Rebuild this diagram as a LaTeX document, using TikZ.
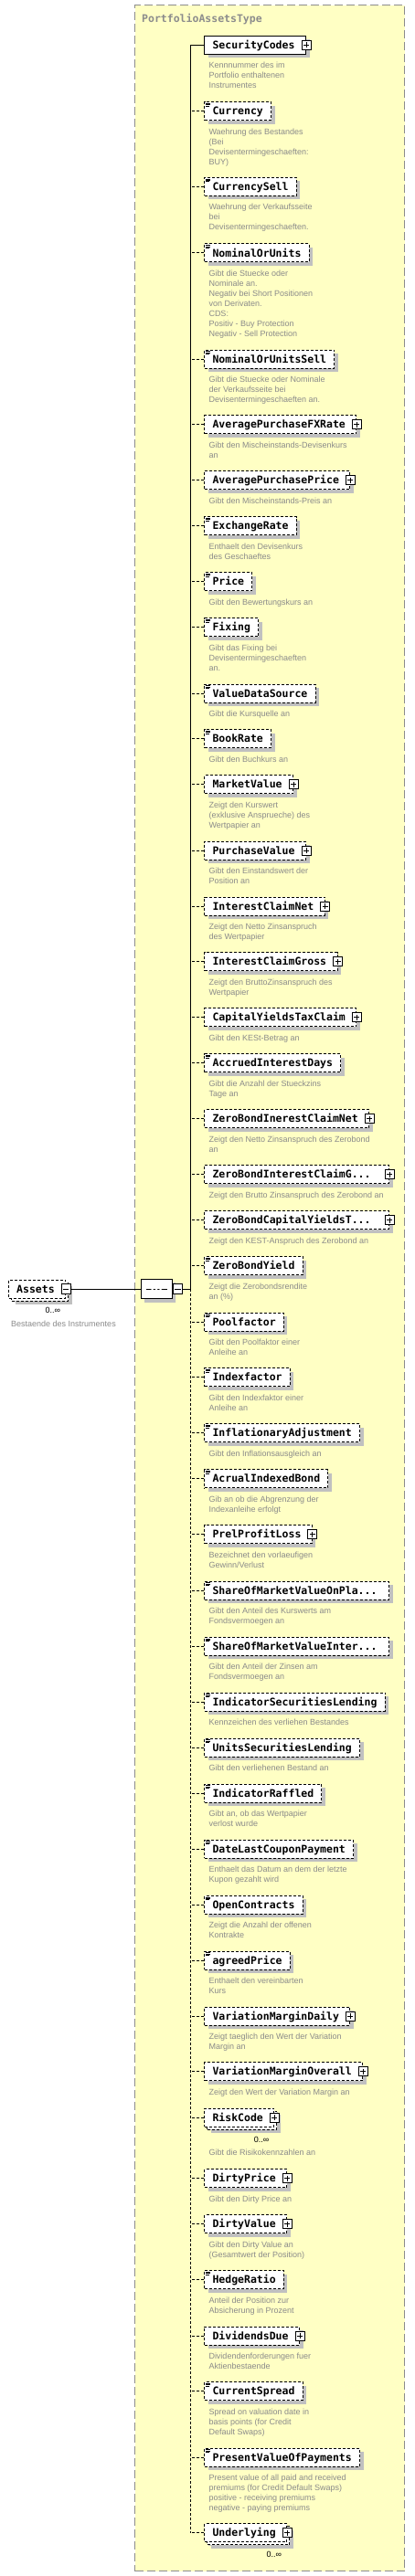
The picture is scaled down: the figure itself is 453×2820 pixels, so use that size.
\documentclass[tikz,border=0pt]{standalone}
\usepackage{fontspec}
\setmainfont{Liberation Sans}
\newfontfamily\monofont{DejaVu Sans Mono}
\usetikzlibrary{positioning,shadows,shapes.misc}
\definecolor{typefill}{HTML}{FFFFC4}
\definecolor{typeline}{HTML}{8C8C8C}
\definecolor{docgray}{HTML}{8A8A8A}
\definecolor{shadowgray}{HTML}{C0C0C0}
\tikzset{
	typebox/.style={rectangle, draw=typeline, fill=typefill, line width=1pt, dash pattern=on 9pt off 4pt, inner sep=0pt},
	typetitle/.style={font=\monofont\bfseries\fontsize{11.5}{13}\selectfont, text=typeline, inner sep=0pt},
	elembox/.style={rectangle, draw=black, fill=white, line width=1pt, anchor=west,
		minimum height=20pt, inner ysep=0pt, inner xsep=8.7pt, text height=10pt, text depth=1.6pt,
		font=\monofont\bfseries\fontsize{11.5}{13}\selectfont,
		drop shadow={shadow xshift=4pt, shadow yshift=-4pt, fill=shadowgray, opacity=1}},
	reqbox/.style={elembox},
	optbox/.style={elembox, dash pattern=on 3pt off 2pt},
	cutbox/.style={text width=184.3pt, align=left},
	plusicon/.style={rectangle, draw=black, fill=white, solid, line width=0.9pt, minimum size=10pt, inner sep=0pt, anchor=center,
		path picture={\draw[line width=0.9pt] ([xshift=2pt]path picture bounding box.west) -- ([xshift=-2pt]path picture bounding box.east)
			([yshift=-2pt]path picture bounding box.north) -- ([yshift=2pt]path picture bounding box.south);}},
	minusicon/.style={rectangle, draw=black, fill=white, solid, line width=0.9pt, minimum size=10.5pt, inner sep=0pt,
		path picture={\draw[line width=0.9pt] ([xshift=2pt]path picture bounding box.west) -- ([xshift=-2pt]path picture bounding box.east);}},
	expbox/.style={execute at end node={\hspace*{3.3pt}}, label={[plusicon]0:{}}},
	simplebox/.style={path picture={\draw[line width=0.6pt, solid]
		([xshift=1.5pt, yshift=-1.6pt]path picture bounding box.north west) -- ++(5pt,0pt)
		([xshift=1.5pt, yshift=-3pt]path picture bounding box.north west) -- ++(5pt,0pt)
		([xshift=1.5pt, yshift=-4.4pt]path picture bounding box.north west) -- ++(4pt,0pt);}},
	multibox/.style={drop shadow={shadow xshift=7pt, shadow yshift=-7pt, fill=shadowgray, opacity=1},
		general shadow={shadow xshift=3pt, shadow yshift=-3pt, fill=white, draw=black, line width=1pt, dash pattern=on 3pt off 2pt}},
	multtext/.style={font=\fontsize{9}{11}\selectfont, text=black, inner sep=0pt},
	elemdoc/.style={font=\fontsize{9}{11}\selectfont, text=docgray, align=left, inner sep=0pt},
	seqbox/.style={chamfered rectangle, chamfered rectangle xsep=7pt, draw=black, fill=white, line width=1pt,
		minimum width=34pt, minimum height=21.7pt, inner sep=0pt,
		drop shadow={shadow xshift=4pt, shadow yshift=-4pt, fill=shadowgray, opacity=1},
		path picture={\draw[line width=1pt] ([xshift=6pt]path picture bounding box.west) -- ([xshift=-5pt]path picture bounding box.east);
			\fill ([xshift=-4.5pt]path picture bounding box.center) circle (1.5pt)
				(path picture bounding box.center) circle (1.5pt)
				([xshift=4.5pt]path picture bounding box.center) circle (1.5pt);}},
	conline/.style={line width=1pt},
	optline/.style={line width=1pt, dash pattern=on 3pt off 2pt}
}
\begin{document}
\begin{tikzpicture}[x=1pt, y=-1pt]
	\useasboundingbox (0,0) rectangle (453,2820);
	\node[typebox, anchor=north west, minimum width=295pt, minimum height=2809pt] (PortfolioAssetsType) at (147.3,5.3) {};
	\node[typetitle, anchor=base west] (title) at (155,24.5) {PortfolioAssetsType};

	\node[optbox, multibox, execute at end node={\hspace*{3.3pt}}, label={[minusicon, anchor=center, name=Assets-m]0:{}}] (Assets) at (9,1411) {Assets};
	\node[multtext, below left=9.8pt and 6pt of Assets.south east] (Assets-occ) {0..∞};
	\node[elemdoc, below right=24.4pt and 3pt of Assets.south west] (Assets-doc) {Bestaende des Instrumentes};

	\node[seqbox, label={[minusicon, anchor=west, name=seq-m]0:{}}] (seq) at (171.2,1411) {};
	\coordinate (spine) at (208.3,1411);

	\node[reqbox, expbox] (SecurityCodes) at (223.3,49.3) {SecurityCodes};
	\node[elemdoc, below right=8.4pt and 5pt of SecurityCodes.south west] (SecurityCodes-doc) {Kennnummer des im\\Portfolio enthaltenen\\Instrumentes};
	\node[optbox, simplebox] (Currency) at (223.3,121.7) {Currency};
	\node[elemdoc, below right=8.4pt and 5pt of Currency.south west] (Currency-doc) {Waehrung des Bestandes\\(Bei\\Devisentermingeschaeften:\\BUY)};
	\node[optbox, simplebox] (CurrencySell) at (223.3,204.3) {CurrencySell};
	\node[elemdoc, below right=8.4pt and 5pt of CurrencySell.south west] (CurrencySell-doc) {Waehrung der Verkaufsseite\\bei\\Devisentermingeschaeften.};
	\node[optbox, simplebox] (NominalOrUnits) at (223.3,277) {NominalOrUnits};
	\node[elemdoc, below right=8.4pt and 5pt of NominalOrUnits.south west] (NominalOrUnits-doc) {Gibt die Stuecke oder\\Nominale an.\\Negativ bei Short Positionen\\von Derivaten.\\CDS:\\Positiv - Buy Protection\\Negativ - Sell Protection};
	\node[optbox, simplebox] (NominalOrUnitsSell) at (223.3,393) {NominalOrUnitsSell};
	\node[elemdoc, below right=8.4pt and 5pt of NominalOrUnitsSell.south west] (NominalOrUnitsSell-doc) {Gibt die Stuecke oder Nominale\\der Verkaufsseite bei\\Devisentermingeschaeften an.};
	\node[optbox, expbox] (AveragePurchaseFXRate) at (223.3,464.7) {AveragePurchaseFXRate};
	\node[elemdoc, below right=8.4pt and 5pt of AveragePurchaseFXRate.south west] (AveragePurchaseFXRate-doc) {Gibt den Mischeinstands-Devisenkurs\\an};
	\node[optbox, expbox] (AveragePurchasePrice) at (223.3,525.7) {AveragePurchasePrice};
	\node[elemdoc, below right=8.4pt and 5pt of AveragePurchasePrice.south west] (AveragePurchasePrice-doc) {Gibt den Mischeinstands-Preis an};
	\node[optbox, simplebox] (ExchangeRate) at (223.3,575.7) {ExchangeRate};
	\node[elemdoc, below right=8.4pt and 5pt of ExchangeRate.south west] (ExchangeRate-doc) {Enthaelt den Devisenkurs\\des Geschaeftes};
	\node[optbox, simplebox] (Price) at (223.3,636.7) {Price};
	\node[elemdoc, below right=8.4pt and 5pt of Price.south west] (Price-doc) {Gibt den Bewertungskurs an};
	\node[optbox, simplebox] (Fixing) at (223.3,686.7) {Fixing};
	\node[elemdoc, below right=8.4pt and 5pt of Fixing.south west] (Fixing-doc) {Gibt das Fixing bei\\Devisentermingeschaeften\\an.};
	\node[optbox, simplebox] (ValueDataSource) at (223.3,759) {ValueDataSource};
	\node[elemdoc, below right=8.4pt and 5pt of ValueDataSource.south west] (ValueDataSource-doc) {Gibt die Kursquelle an};
	\node[optbox, simplebox] (BookRate) at (223.3,808.7) {BookRate};
	\node[elemdoc, below right=8.4pt and 5pt of BookRate.south west] (BookRate-doc) {Gibt den Buchkurs an};
	\node[optbox, expbox] (MarketValue) at (223.3,858.7) {MarketValue};
	\node[elemdoc, below right=8.4pt and 5pt of MarketValue.south west] (MarketValue-doc) {Zeigt den Kurswert\\(exklusive Ansprueche) des\\Wertpapier an};
	\node[optbox, expbox] (PurchaseValue) at (223.3,931) {PurchaseValue};
	\node[elemdoc, below right=8.4pt and 5pt of PurchaseValue.south west] (PurchaseValue-doc) {Gibt den Einstandswert der\\Position an};
	\node[optbox, expbox] (InterestClaimNet) at (223.3,992) {InterestClaimNet};
	\node[elemdoc, below right=8.4pt and 5pt of InterestClaimNet.south west] (InterestClaimNet-doc) {Zeigt den Netto Zinsanspruch\\des Wertpapier};
	\node[optbox, expbox] (InterestClaimGross) at (223.3,1052.7) {InterestClaimGross};
	\node[elemdoc, below right=8.4pt and 5pt of InterestClaimGross.south west] (InterestClaimGross-doc) {Zeigt den BruttoZinsanspruch des\\Wertpapier};
	\node[optbox, expbox] (CapitalYieldsTaxClaim) at (223.3,1113.7) {CapitalYieldsTaxClaim};
	\node[elemdoc, below right=8.4pt and 5pt of CapitalYieldsTaxClaim.south west] (CapitalYieldsTaxClaim-doc) {Gibt den KESt-Betrag an};
	\node[optbox, simplebox] (AccruedInterestDays) at (223.3,1163.7) {AccruedInterestDays};
	\node[elemdoc, below right=8.4pt and 5pt of AccruedInterestDays.south west] (AccruedInterestDays-doc) {Gibt die Anzahl der Stueckzins\\Tage an};
	\node[optbox, expbox] (ZeroBondInerestClaimNet) at (223.3,1224.7) {ZeroBondInerestClaimNet};
	\node[elemdoc, below right=8.4pt and 5pt of ZeroBondInerestClaimNet.south west] (ZeroBondInerestClaimNet-doc) {Zeigt den Netto Zinsanspruch des Zerobond\\an};
	\node[optbox, cutbox, expbox] (ZeroBondInterestClaimG) at (223.3,1285.7) {ZeroBondInterestClaimG...};
	\node[elemdoc, below right=8.4pt and 5pt of ZeroBondInterestClaimG.south west] (ZeroBondInterestClaimG-doc) {Zeigt den Brutto Zinsanspruch des Zerobond an};
	\node[optbox, cutbox, expbox] (ZeroBondCapitalYieldsT) at (223.3,1335.7) {ZeroBondCapitalYieldsT...};
	\node[elemdoc, below right=8.4pt and 5pt of ZeroBondCapitalYieldsT.south west] (ZeroBondCapitalYieldsT-doc) {Zeigt den KEST-Anspruch des Zerobond an};
	\node[optbox, simplebox] (ZeroBondYield) at (223.3,1385.7) {ZeroBondYield};
	\node[elemdoc, below right=8.4pt and 5pt of ZeroBondYield.south west] (ZeroBondYield-doc) {Zeigt die Zerobondsrendite\\an (\%)};
	\node[optbox, simplebox] (Poolfactor) at (223.3,1447) {Poolfactor};
	\node[elemdoc, below right=8.4pt and 5pt of Poolfactor.south west] (Poolfactor-doc) {Gibt den Poolfaktor einer\\Anleihe an};
	\node[optbox, simplebox] (Indexfactor) at (223.3,1507.7) {Indexfactor};
	\node[elemdoc, below right=8.4pt and 5pt of Indexfactor.south west] (Indexfactor-doc) {Gibt den Indexfaktor einer\\Anleihe an};
	\node[optbox, simplebox] (InflationaryAdjustment) at (223.3,1568.7) {InflationaryAdjustment};
	\node[elemdoc, below right=8.4pt and 5pt of InflationaryAdjustment.south west] (InflationaryAdjustment-doc) {Gibt den Inflationsausgleich an};
	\node[optbox, simplebox] (AcrualIndexedBond) at (223.3,1618.7) {AcrualIndexedBond};
	\node[elemdoc, below right=8.4pt and 5pt of AcrualIndexedBond.south west] (AcrualIndexedBond-doc) {Gib an ob die Abgrenzung der\\Indexanleihe erfolgt};
	\node[optbox, expbox] (PrelProfitLoss) at (223.3,1679.7) {PrelProfitLoss};
	\node[elemdoc, below right=8.4pt and 5pt of PrelProfitLoss.south west] (PrelProfitLoss-doc) {Bezeichnet den vorlaeufigen\\Gewinn/Verlust};
	\node[optbox, cutbox, simplebox] (ShareOfMarketValueOnPla) at (223.3,1741) {ShareOfMarketValueOnPla...};
	\node[elemdoc, below right=8.4pt and 5pt of ShareOfMarketValueOnPla.south west] (ShareOfMarketValueOnPla-doc) {Gibt den Anteil des Kurswerts am\\Fondsvermoegen an};
	\node[optbox, cutbox, simplebox] (ShareOfMarketValueInter) at (223.3,1802.3) {ShareOfMarketValueInter...};
	\node[elemdoc, below right=8.4pt and 5pt of ShareOfMarketValueInter.south west] (ShareOfMarketValueInter-doc) {Gibt den Anteil der Zinsen am\\Fondsvermoegen an};
	\node[optbox, simplebox] (IndicatorSecuritiesLending) at (223.3,1863) {IndicatorSecuritiesLending};
	\node[elemdoc, below right=8.4pt and 5pt of IndicatorSecuritiesLending.south west] (IndicatorSecuritiesLending-doc) {Kennzeichen des verliehen Bestandes};
	\node[optbox, simplebox] (UnitsSecuritiesLending) at (223.3,1913) {UnitsSecuritiesLending};
	\node[elemdoc, below right=8.4pt and 5pt of UnitsSecuritiesLending.south west] (UnitsSecuritiesLending-doc) {Gibt den verliehenen Bestand an};
	\node[optbox, simplebox] (IndicatorRaffled) at (223.3,1963) {IndicatorRaffled};
	\node[elemdoc, below right=8.4pt and 5pt of IndicatorRaffled.south west] (IndicatorRaffled-doc) {Gibt an, ob das Wertpapier\\verlost wurde};
	\node[optbox, simplebox] (DateLastCouponPayment) at (223.3,2024) {DateLastCouponPayment};
	\node[elemdoc, below right=8.4pt and 5pt of DateLastCouponPayment.south west] (DateLastCouponPayment-doc) {Enthaelt das Datum an dem der letzte\\Kupon gezahlt wird};
	\node[optbox, simplebox] (OpenContracts) at (223.3,2085.3) {OpenContracts};
	\node[elemdoc, below right=8.4pt and 5pt of OpenContracts.south west] (OpenContracts-doc) {Zeigt die Anzahl der offenen\\Kontrakte};
	\node[optbox, simplebox] (agreedPrice) at (223.3,2146) {agreedPrice};
	\node[elemdoc, below right=8.4pt and 5pt of agreedPrice.south west] (agreedPrice-doc) {Enthaelt den vereinbarten\\Kurs};
	\node[optbox, expbox] (VariationMarginDaily) at (223.3,2207) {VariationMarginDaily};
	\node[elemdoc, below right=8.4pt and 5pt of VariationMarginDaily.south west] (VariationMarginDaily-doc) {Zeigt taeglich den Wert der Variation\\Margin an};
	\node[optbox, expbox] (VariationMarginOverall) at (223.3,2267.7) {VariationMarginOverall};
	\node[elemdoc, below right=8.4pt and 5pt of VariationMarginOverall.south west] (VariationMarginOverall-doc) {Zeigt den Wert der Variation Margin an};
	\node[optbox, multibox, expbox] (RiskCode) at (223.3,2318.3) {RiskCode};
	\node[multtext, below left=9.8pt and 6pt of RiskCode.south east] (RiskCode-occ) {0..∞};
	\node[elemdoc, below right=24.4pt and 5pt of RiskCode.south west] (RiskCode-doc) {Gibt die Risikokennzahlen an};
	\node[optbox, expbox] (DirtyPrice) at (223.3,2384.7) {DirtyPrice};
	\node[elemdoc, below right=8.4pt and 5pt of DirtyPrice.south west] (DirtyPrice-doc) {Gibt den Dirty Price an};
	\node[optbox, expbox] (DirtyValue) at (223.3,2434.7) {DirtyValue};
	\node[elemdoc, below right=8.4pt and 5pt of DirtyValue.south west] (DirtyValue-doc) {Gibt den Dirty Value an\\(Gesamtwert der Position)};
	\node[optbox, simplebox] (HedgeRatio) at (223.3,2495.7) {HedgeRatio};
	\node[elemdoc, below right=8.4pt and 5pt of HedgeRatio.south west] (HedgeRatio-doc) {Anteil der Position zur\\Absicherung in Prozent};
	\node[optbox, expbox] (DividendsDue) at (223.3,2557) {DividendsDue};
	\node[elemdoc, below right=8.4pt and 5pt of DividendsDue.south west] (DividendsDue-doc) {Dividendenforderungen fuer\\Aktienbestaende};
	\node[optbox, simplebox] (CurrentSpread) at (223.3,2617.7) {CurrentSpread};
	\node[elemdoc, below right=8.4pt and 5pt of CurrentSpread.south west] (CurrentSpread-doc) {Spread on valuation date in\\basis points (for Credit\\Default Swaps)};
	\node[optbox, simplebox] (PresentValueOfPayments) at (223.3,2690) {PresentValueOfPayments};
	\node[elemdoc, below right=8.4pt and 5pt of PresentValueOfPayments.south west] (PresentValueOfPayments-doc) {Present value of all paid and received\\premiums (for Credit Default Swaps)\\positive - receiving premiums\\negative - paying premiums};
	\node[optbox, multibox, expbox] (Underlying) at (223.3,2772.7) {Underlying};
	\node[multtext, below left=9.8pt and 6pt of Underlying.south east] (Underlying-occ) {0..∞};

	\draw[conline] (Assets-m.east) -- (seq.west);
	\draw[conline] (seq-m.east) -- (spine);
	\draw[conline] (SecurityCodes.west) -- (SecurityCodes.west -| spine) -- (spine);
	\draw[optline] (spine) -- (Underlying.west -| spine);
	\draw[optline] (Currency.west) -- (Currency.west -| spine)
		(CurrencySell.west) -- (CurrencySell.west -| spine)
		(NominalOrUnits.west) -- (NominalOrUnits.west -| spine)
		(NominalOrUnitsSell.west) -- (NominalOrUnitsSell.west -| spine)
		(AveragePurchaseFXRate.west) -- (AveragePurchaseFXRate.west -| spine)
		(AveragePurchasePrice.west) -- (AveragePurchasePrice.west -| spine)
		(ExchangeRate.west) -- (ExchangeRate.west -| spine)
		(Price.west) -- (Price.west -| spine)
		(Fixing.west) -- (Fixing.west -| spine)
		(ValueDataSource.west) -- (ValueDataSource.west -| spine)
		(BookRate.west) -- (BookRate.west -| spine)
		(MarketValue.west) -- (MarketValue.west -| spine)
		(PurchaseValue.west) -- (PurchaseValue.west -| spine)
		(InterestClaimNet.west) -- (InterestClaimNet.west -| spine)
		(InterestClaimGross.west) -- (InterestClaimGross.west -| spine)
		(CapitalYieldsTaxClaim.west) -- (CapitalYieldsTaxClaim.west -| spine)
		(AccruedInterestDays.west) -- (AccruedInterestDays.west -| spine)
		(ZeroBondInerestClaimNet.west) -- (ZeroBondInerestClaimNet.west -| spine)
		(ZeroBondInterestClaimG.west) -- (ZeroBondInterestClaimG.west -| spine)
		(ZeroBondCapitalYieldsT.west) -- (ZeroBondCapitalYieldsT.west -| spine)
		(ZeroBondYield.west) -- (ZeroBondYield.west -| spine)
		(Poolfactor.west) -- (Poolfactor.west -| spine)
		(Indexfactor.west) -- (Indexfactor.west -| spine)
		(InflationaryAdjustment.west) -- (InflationaryAdjustment.west -| spine)
		(AcrualIndexedBond.west) -- (AcrualIndexedBond.west -| spine)
		(PrelProfitLoss.west) -- (PrelProfitLoss.west -| spine)
		(ShareOfMarketValueOnPla.west) -- (ShareOfMarketValueOnPla.west -| spine)
		(ShareOfMarketValueInter.west) -- (ShareOfMarketValueInter.west -| spine)
		(IndicatorSecuritiesLending.west) -- (IndicatorSecuritiesLending.west -| spine)
		(UnitsSecuritiesLending.west) -- (UnitsSecuritiesLending.west -| spine)
		(IndicatorRaffled.west) -- (IndicatorRaffled.west -| spine)
		(DateLastCouponPayment.west) -- (DateLastCouponPayment.west -| spine)
		(OpenContracts.west) -- (OpenContracts.west -| spine)
		(agreedPrice.west) -- (agreedPrice.west -| spine)
		(VariationMarginDaily.west) -- (VariationMarginDaily.west -| spine)
		(VariationMarginOverall.west) -- (VariationMarginOverall.west -| spine)
		(RiskCode.west) -- (RiskCode.west -| spine)
		(DirtyPrice.west) -- (DirtyPrice.west -| spine)
		(DirtyValue.west) -- (DirtyValue.west -| spine)
		(HedgeRatio.west) -- (HedgeRatio.west -| spine)
		(DividendsDue.west) -- (DividendsDue.west -| spine)
		(CurrentSpread.west) -- (CurrentSpread.west -| spine)
		(PresentValueOfPayments.west) -- (PresentValueOfPayments.west -| spine)
		(Underlying.west) -- (Underlying.west -| spine);
\end{tikzpicture}
\end{document}
